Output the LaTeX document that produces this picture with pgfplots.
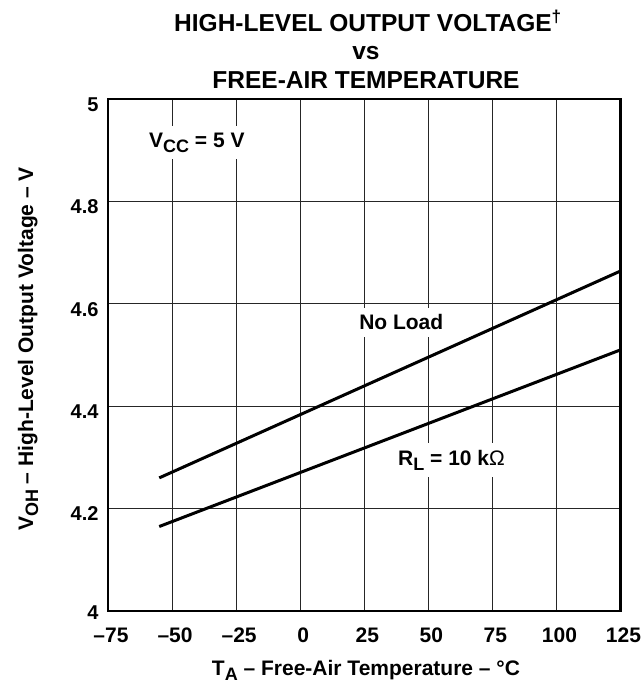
\documentclass[border=0pt]{standalone}
\usepackage{fontspec}
\setmainfont{Liberation Sans}
\usepackage{pgfplots}
\pgfplotsset{compat=1.18}
\newcommand{\sub}[1]{\raisebox{-5pt}{\fontsize{18}{18}\selectfont #1}}
\begin{document}
\begin{tikzpicture}
\useasboundingbox (0,0) rectangle (644pt,683pt);
\begin{axis}[
  at={(108pt,72pt)}, anchor=south west,
  scale only axis, width=512.5pt, height=512pt,
  xmin=-75, xmax=125, ymin=4, ymax=5,
  xtick={-75,-50,-25,0,25,50,75,100,125},
  ytick={4.2,4.4,4.6,4.8,5},
  xticklabels={\textbf{–75},\textbf{–50},\textbf{–25},\textbf{0},\textbf{25},\textbf{50},\textbf{75},\textbf{100},\textbf{125}},
  yticklabels={\textbf{4.2},\textbf{4.4},\textbf{4.6},\textbf{4.8},\textbf{5}},
  extra y ticks={4},
  extra y tick labels={\textbf{4}},
  extra y tick style={grid=none, yticklabel style={yshift=4pt}},
  grid=major, grid style={line width=1pt, black!85},
  axis line style={line width=2.5pt},
  major tick length=0pt,
  xticklabel style={font=\fontsize{21}{25}\selectfont\bfseries, anchor=north, text height=15pt, text depth=0pt, inner sep=7pt, yshift=-9pt, xshift=3pt},
  yticklabel style={font=\fontsize{20}{24}\selectfont\bfseries, anchor=east, text height=14.5pt, text depth=0pt, xshift=-6pt, yshift=-5pt},
  clip=false,
]
\addplot[black, line width=3pt] coordinates {(-55,4.26) (125,4.664)};
\addplot[black, line width=3pt] coordinates {(-55,4.165) (125,4.51)};
\node[anchor=base west, fill=white, inner xsep=3pt, inner ysep=7pt, font=\fontsize{21}{25}\selectfont\bfseries]
  at (axis cs:-60.2,4.906) {V\sub{CC} = 5 V};
\node[anchor=base west, fill=white, inner xsep=3pt, inner ysep=7pt, font=\fontsize{21}{25}\selectfont\bfseries]
  at (axis cs:21.8,4.549) {No Load};
\node[anchor=base west, fill=white, inner xsep=3pt, inner ysep=7pt, font=\fontsize{21}{25}\selectfont\bfseries]
  at (axis cs:37.0,4.285) {R\sub{L} = 10 k\textmd{Ω}};
\end{axis}
\node[anchor=base, font=\fontsize{24.5}{28}\selectfont\bfseries] at (368pt,651pt) {HIGH-LEVEL OUTPUT VOLTAGE\textsuperscript{†}};
\node[anchor=base, font=\fontsize{24.5}{28}\selectfont\bfseries] at (366pt,623pt) {vs};
\node[anchor=base, font=\fontsize{24.5}{28}\selectfont\bfseries] at (366pt,594pt) {FREE-AIR TEMPERATURE};
\node[anchor=base, font=\fontsize{21}{25}\selectfont\bfseries] at (366pt,8pt) {T\sub{A} – Free-Air Temperature – °C};
\node[anchor=base, rotate=90, font=\fontsize{21}{25}\selectfont\bfseries] at (33pt,334pt) {V\sub{OH} – High-Level Output Voltage – V};
\end{tikzpicture}
\end{document}
